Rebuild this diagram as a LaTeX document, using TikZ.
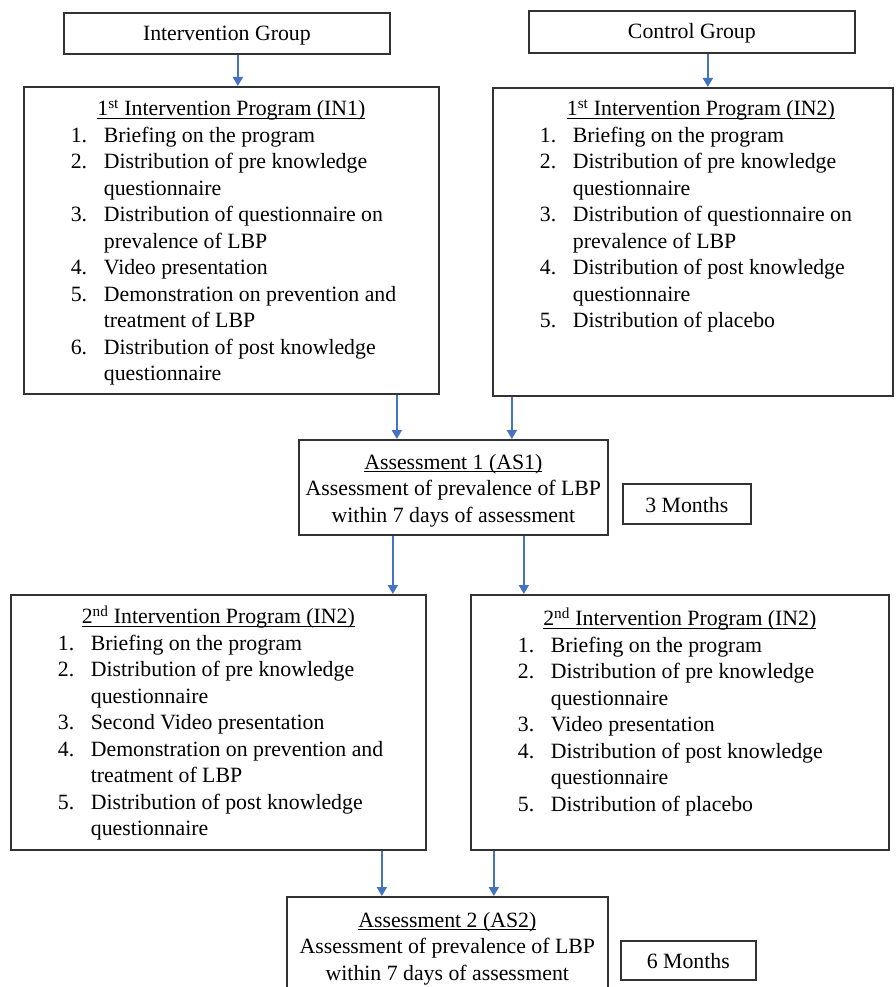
\documentclass[tikz,border=0pt]{standalone}
\usepackage{fontspec}
\setmainfont{Liberation Serif}
\usetikzlibrary{arrows.meta}
\definecolor{arrblue}{RGB}{68,114,196}
\definecolor{boxgray}{RGB}{50,50,50}
\newcommand{\ulx}[1]{\setbox0=\hbox{#1}\rlap{\rule[-3pt]{\wd0}{0.9pt}}\box0}
\newcommand{\ttl}[1]{\hbox to\linewidth{\strut\hss\ulx{#1}\hss}}
\newcommand{\cln}[1]{\hbox to\linewidth{\strut\hss#1\hss}}
\newcommand{\itm}[2]{\hbox{\strut\hspace*{47pt}\hbox to 33pt{#1\hss}#2}}
\newcommand{\itc}[1]{\hbox{\strut\hspace*{80pt}#1}}
\begin{document}
\begin{tikzpicture}[x=1pt,y=-1pt,
  box/.style={draw=boxgray, line width=1.7pt, inner sep=0pt, anchor=north west},
  arr/.style={draw=arrblue, line width=1.8pt, -{Triangle[width=10pt,length=9pt]}, arrblue},
  font=\fontsize{21.8}{26.5}\selectfont]
\useasboundingbox (0,0) rectangle (895,987);
\clip (0,0) rectangle (895,987);
\fill[white] (0,0) rectangle (895,987);

\node[box] (ig) at (63,12) {\begin{minipage}[t][41pt][t]{326pt}\vspace*{9.45pt}\cln{Intervention Group}\end{minipage}};
\node[box] (cg) at (528,10) {\begin{minipage}[t][42pt][t]{326pt}\vspace*{9.45pt}\cln{Control Group}\end{minipage}};

\node[box] (in1) at (23,86) {\begin{minipage}[t][307pt][t]{415pt}\vspace*{10.45pt}%
\ttl{1\textsuperscript{st} Intervention Program (IN1)}
\itm{1.}{Briefing on the program}
\itm{2.}{Distribution of pre knowledge}
\itc{questionnaire}
\itm{3.}{Distribution of questionnaire on}
\itc{prevalence of LBP}
\itm{4.}{Video presentation}
\itm{5.}{Demonstration on prevention and}
\itc{treatment of LBP}
\itm{6.}{Distribution of post knowledge}
\itc{questionnaire}
\end{minipage}};

\node[box] (in2a) at (492,87) {\begin{minipage}[t][308pt][t]{400pt}\vspace*{9.45pt}%
\hbox to\linewidth{\strut\hss\hspace*{16pt}\ulx{1\textsuperscript{st} Intervention Program (IN2)}\hss}
\itm{1.}{Briefing on the program}
\itm{2.}{Distribution of pre knowledge}
\itc{questionnaire}
\itm{3.}{Distribution of questionnaire on}
\itc{prevalence of LBP}
\itm{4.}{Distribution of post knowledge}
\itc{questionnaire}
\itm{5.}{Distribution of placebo}
\end{minipage}};

\node[box] (as1) at (298,439) {\begin{minipage}[t][95pt][t]{309pt}\vspace*{10.95pt}%
\cln{\ulx{Assessment 1 (AS1)}}
\cln{Assessment of prevalence of LBP}
\cln{within 7 days of assessment}
\end{minipage}};

\node[box] (m3) at (622,483) {\begin{minipage}[t][40pt][t]{128pt}\vspace*{10.45pt}\cln{3 Months}\end{minipage}};

\node[box] (in2l) at (10,594) {\begin{minipage}[t][255pt][t]{415pt}\vspace*{10.45pt}%
\ttl{2\textsuperscript{nd} Intervention Program (IN2)}
\itm{1.}{Briefing on the program}
\itm{2.}{Distribution of pre knowledge}
\itc{questionnaire}
\itm{3.}{Second Video presentation}
\itm{4.}{Demonstration on prevention and}
\itc{treatment of LBP}
\itm{5.}{Distribution of post knowledge}
\itc{questionnaire}
\end{minipage}};

\node[box] (in2r) at (470,594) {\begin{minipage}[t][255pt][t]{418pt}\vspace*{12.45pt}%
\ttl{2\textsuperscript{nd} Intervention Program (IN2)}
\itm{1.}{Briefing on the program}
\itm{2.}{Distribution of pre knowledge}
\itc{questionnaire}
\itm{3.}{Video presentation}
\itm{4.}{Distribution of post knowledge}
\itc{questionnaire}
\itm{5.}{Distribution of placebo}
\end{minipage}};

\node[box] (as2) at (286,896) {\begin{minipage}[t][110pt][t]{321pt}\vspace*{11.95pt}%
\cln{\ulx{Assessment 2 (AS2)}}
\cln{Assessment of prevalence of LBP}
\cln{within 7 days of assessment}
\end{minipage}};

\node[box] (m6) at (620,940) {\begin{minipage}[t][39pt][t]{135pt}\vspace*{9.45pt}\cln{6 Months}\end{minipage}};

\draw[arr] ([xshift=11pt]ig.south) -- ([xshift=11pt]ig.south |- in1.north);
\draw[arr] ([xshift=16pt]cg.south) -- ([xshift=16pt]cg.south |- in2a.north);
\draw[arr] ([xshift=-56.5pt]as1.north |- in1.south) -- ([xshift=-56.5pt]as1.north);
\draw[arr] ([xshift=58.5pt]as1.north |- in2a.south) -- ([xshift=58.5pt]as1.north);
\draw[arr] ([xshift=-60.5pt]as1.south) -- ([xshift=-60.5pt]as1.south |- in2l.north);
\draw[arr] ([xshift=70.5pt]as1.south) -- ([xshift=70.5pt]as1.south |- in2r.north);
\draw[arr] ([xshift=-65.5pt]as2.north |- in2l.south) -- ([xshift=-65.5pt]as2.north);
\draw[arr] ([xshift=46.5pt]as2.north |- in2r.south) -- ([xshift=46.5pt]as2.north);
\end{tikzpicture}
\end{document}
